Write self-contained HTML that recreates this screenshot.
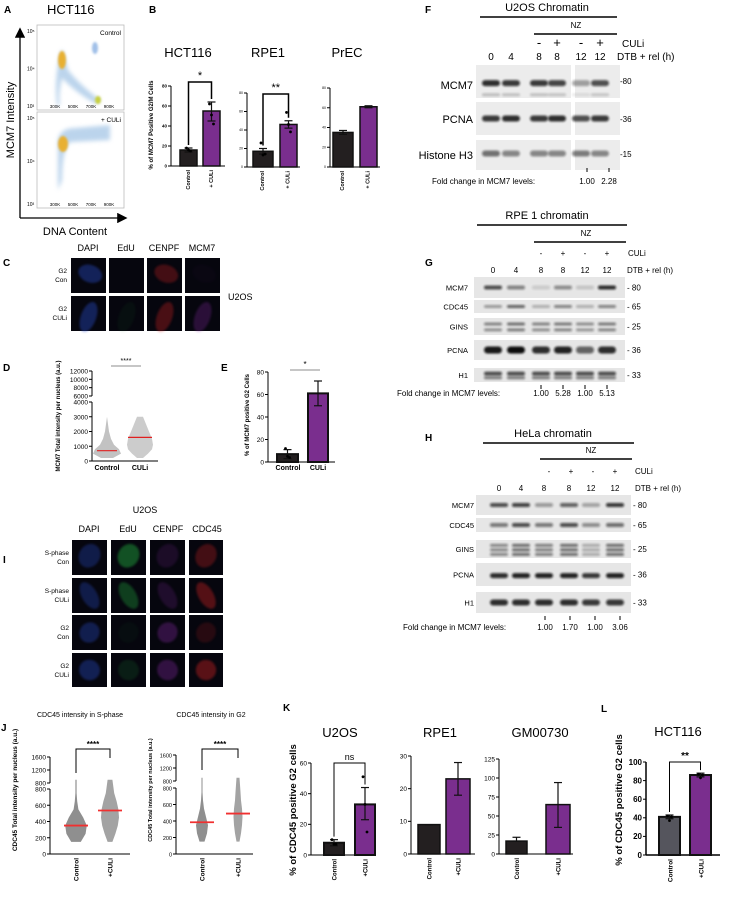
<!DOCTYPE html>
<html><head><meta charset="utf-8">
<style>
html,body{margin:0;padding:0;background:#fff;}
svg{display:block;font-family:"Liberation Sans",sans-serif;}
</style></head>
<body>
<svg id="fig" width="746" height="898" viewBox="0 0 746 898" xmlns="http://www.w3.org/2000/svg">
<defs>
<filter id="blur2" x="-50%" y="-50%" width="200%" height="200%"><feGaussianBlur stdDeviation="2"/></filter>
<filter id="blur1" x="-50%" y="-50%" width="200%" height="200%"><feGaussianBlur stdDeviation="1"/></filter>
<marker id="arr" markerWidth="8" markerHeight="8" refX="6" refY="4" orient="auto"><path d="M0,0 L8,4 L0,8 z" fill="#000"/></marker>
</defs>
<g id="root"></g>
</svg>
<script>
// ===== DATA =====
const bHctVals=[16,55]; const bHctLo=[14,45]; const bHctHi=[18,64]; const bHctDotsC=[18,16,15]; const bHctDotsU=[62,51,42];
const bRpeVals=[17,46]; const bRpeLo=[14,42]; const bRpeHi=[20,50]; const bRpeDotsC=[26,13,14]; const bRpeDotsU=[59,46,38];
const bPrecVals=[35,61]; const bPrecLo=[33,60]; const bPrecHi=[37,62];
const eVals=[7,61]; const eLo=[3,50]; const eHi=[11,72]; const eDotsC=[12,5,4];
const kU2Vals=[8,33]; const kU2Lo=[6,23]; const kU2Hi=[10,44]; const kU2DotsC=[10,7,7]; const kU2DotsU=[51,33,15];
const kRpeVals=[9,23]; const kRpeLo=[9,18]; const kRpeHi=[9,28];
const kGmVals=[17,65]; const kGmLo=[17,35]; const kGmHi=[22,94];
const lVals=[41,86]; const lLo=[39,84]; const lHi=[43,88]; const lDotsC=[42,37,41]; const lDotsU=[87,83,86];
const ticks80=[0,20,40,60,80]; const ticks60=[0,20,40,60]; const ticks30=[0,10,20,30];
const ticks125=[0,25,50,75,100,125]; const ticks100=[0,20,40,60,80,100];
const dTicksLow=[0,1000,2000,3000,4000]; const dTicksHigh=[6000,8000,10000,12000];
const dMedians=[700,1600];
const dCloudVals=[200,500,800,1100,1500,2000,2500,3000];
const dCloudC=[6,14,12,7,4,2,1,0];
const dCloudU=[3,8,12,13,12,9,6,3];
const jTicksLow=[0,200,400,600,800]; const jTicksHigh=[800,1200,1600];
const jMed1=[350,535]; const jMed2=[385,490];
const jCloudVals=[150,250,350,450,550,650,750,900];
const j1C=[8,16,18,12,4,2,1,1]; const j1U=[4,9,13,15,14,11,7,4];
const j2C=[5,10,12,8,4,2,1,1]; const j2U=[3,6,8,9,8,6,5,3];
const laneF=[491,511,539,557,581,600];
const fMcm=[0.85,0.8,0.8,0.75,0.35,0.7]; const fPcna=[0.8,0.85,0.8,0.85,0.7,0.8]; const fH3=[0.55,0.45,0.45,0.45,0.5,0.45];
const laneG=[493,516,541,563,585,607];
const gMcm=[0.7,0.45,0.12,0.4,0.15,0.85]; const gCdc=[0.35,0.6,0.25,0.45,0.25,0.45]; const gGins=[0.5,0.6,0.5,0.55,0.45,0.55]; const gPcna=[0.95,1,0.85,0.9,0.6,0.85]; const gH1=[0.7,0.7,0.7,0.7,0.7,0.7];
const laneH=[499,521,544,569,591,615];
const hMcm=[0.7,0.75,0.35,0.6,0.3,0.8]; const hCdc=[0.5,0.7,0.5,0.7,0.4,0.55]; const hGins=[0.55,0.7,0.6,0.7,0.35,0.7]; const hPcna=[0.85,0.9,0.9,0.9,0.8,0.9]; const hH1=[0.85,0.85,0.85,0.85,0.8,0.8];
const foldF=["1.00","2.28"]; const foldG=["1.00","5.28","1.00","5.13"]; const foldH=["1.00","1.70","1.00","3.06"];

// ===== HELPERS =====
const NS="http://www.w3.org/2000/svg";
const root=document.getElementById('root');
function add(tag,attrs,name,parent){
  const e=document.createElementNS(NS,tag);
  for(const k in attrs) e.setAttribute(k,attrs[k]);
  
  
  (parent||root).appendChild(e);return e;
}
function txt(x,y,s,size,name,opt){
  opt=opt||{};
  const a={x:x,y:y,'font-size':size,fill:opt.fill||'#000','text-anchor':opt.anchor||'start'};
  if(opt.weight)a['font-weight']=opt.weight;
  if(opt.rot!==undefined)a.transform='rotate('+opt.rot+' '+x+' '+y+')';
  const t=add('text',a,name,opt.parent);t.textContent=s;return t;
}
function line(x1,y1,x2,y2,w,name,col){return add('line',{x1:x1,y1:y1,x2:x2,y2:y2,stroke:col||'#000','stroke-width':w},name);}

function barChart(o){
  const g=add('g',{},o.name);
  const sy=v=>o.y0-(v/o.max)*(o.y0-o.yTop);
  add('line',{x1:o.ax,y1:o.yTop,x2:o.ax,y2:o.y0,stroke:'#000','stroke-width':o.aw||1},o.name+'-y-axis',g);
  add('line',{x1:o.ax,y1:o.y0,x2:o.xEnd,y2:o.y0,stroke:'#000','stroke-width':o.aw||1},o.name+'-x-axis',g);
  o.ticks.forEach(t=>{
    add('line',{x1:o.ax-3,y1:sy(t),x2:o.ax,y2:sy(t),stroke:'#000','stroke-width':1},o.name+'-tick',g);
    txt(o.ax-4,sy(t)+o.fs*0.35,String(t),o.fs,o.name+'-tick-label',{anchor:'end',parent:g,weight:o.bold?'bold':null,fill:o.tickCol||'#000'});
  });
  o.vals.forEach((v,i)=>{
    const x0=o.bx[i][0],x1=o.bx[i][1];
    add('rect',{x:x0,y:sy(v),width:x1-x0,height:o.y0-sy(v),fill:o.cols[i],stroke:'#111','stroke-width':o.bw||1.5},o.name+'-bar-'+i,g);
    const cx=(x0+x1)/2;
    if(o.lo){
      add('line',{x1:cx,y1:sy(o.lo[i]),x2:cx,y2:sy(o.hi[i]),stroke:'#111','stroke-width':1.2},o.name+'-error-bar',g);
      add('line',{x1:cx-4,y1:sy(o.hi[i]),x2:cx+4,y2:sy(o.hi[i]),stroke:'#111','stroke-width':1.2},o.name+'-error-cap',g);
      add('line',{x1:cx-4,y1:sy(o.lo[i]),x2:cx+4,y2:sy(o.lo[i]),stroke:'#111','stroke-width':1.2},o.name+'-error-cap',g);
    }
    const d=o.dots&&o.dots[i];
    if(d)d.forEach((dv,j)=>add('circle',{cx:cx+(j-1)*2,cy:sy(dv),r:1.4,fill:'#000'},o.name+'-dot',g));
    if(o.cats[i]) txt(cx+o.fs*0.35,o.y0+4,o.cats[i],o.xfs||o.fs,o.name+'-x-label',{anchor:'end',rot:-90,parent:g,weight:'bold'});
  });
  if(o.sig){
    const c0=(o.bx[0][0]+o.bx[0][1])/2,c1=(o.bx[1][0]+o.bx[1][1])/2;
    const yb=o.sigY;
    add('polyline',{points:c0+','+(sy(o.hi[0])-3)+' '+c0+','+yb+' '+c1+','+yb+' '+c1+','+(sy(o.hi[1])-3),fill:'none',stroke:'#000','stroke-width':o.sigW||1},o.name+'-significance-bracket',g);
    txt((c0+c1)/2,yb-3,o.sig,o.sigFs||9,o.name+'-significance-label',{anchor:'middle',parent:g,weight:o.sigBold?'bold':null});
  }
  return sy;
}

// ===== PANEL LABELS =====
[['A',4,13],['B',149,13],['C',3,266],['D',3,371],['E',221,371],['F',425,13],['G',425,266],['H',425,441],['I',3,563],['J',1,731],['K',283,711],['L',601,712]].forEach(p=>txt(p[1],p[2],p[0],10,'panel-label-'+p[0].toLowerCase(),{weight:'bold'}));

// ===== A: flow =====
txt(47,14,'HCT116',13,'panel-a-title');
line(20,218,20,30,1.3,'a-y-axis-arrow').setAttribute('marker-end','url(#arr)');
line(20,218,125,218,1.3,'a-x-axis-arrow').setAttribute('marker-end','url(#arr)');
txt(14,120,'MCM7 Intensity',11,'a-y-axis-title',{anchor:'middle',rot:-90});
txt(75,235,'DNA Content',11,'a-x-axis-title',{anchor:'middle'});
[[25,110,'Control'],[112,208,'+ CULi']].forEach((b,k)=>{
  add('rect',{x:37,y:b[0],width:87,height:b[1]-b[0],fill:'#fff',stroke:'#bbb','stroke-width':0.8},'flow-plot-'+k);
  txt(121,b[0]+10,b[2],6.5,'flow-plot-label',{anchor:'end'});
  ['10⁵','10⁴','10³'].forEach((s,i)=>txt(27,b[0]+8+i*(b[1]-b[0]-10)/2,s,5,'flow-y-tick',{}));
  ['300K','500K','700K','900K'].forEach((s,i)=>txt(55+i*18,b[1]-2,s,4.5,'flow-x-tick',{anchor:'middle'}));
});
add('path',{d:'M60,55 Q62,45 64,55 L68,70 Q80,85 100,100 L96,104 Q75,92 62,78 Q58,95 60,105 L57,105 Q54,80 60,55z',fill:'#8fb8e0',opacity:0.6,filter:'url(#blur2)'},'flow-control-cloud');
add('ellipse',{cx:62,cy:60,rx:4,ry:9,fill:'#e8b030',filter:'url(#blur1)'},'flow-control-g1');
add('ellipse',{cx:98,cy:100,rx:3,ry:4,fill:'#c8d040',filter:'url(#blur1)'},'flow-control-g2');
add('ellipse',{cx:95,cy:48,rx:3,ry:6,fill:'#a0c0e8',filter:'url(#blur1)'},'flow-control-m');
add('path',{d:'M58,140 Q60,128 75,128 L110,125 L110,140 L70,142 Q62,150 62,180 L58,190z',fill:'#8fb8e0',opacity:0.6,filter:'url(#blur2)'},'flow-culi-cloud');
add('ellipse',{cx:63,cy:144,rx:5,ry:8,fill:'#e8b030',filter:'url(#blur1)'},'flow-culi-g1');

// ===== B =====
txt(188,57,'HCT116',13,'b-hct116-title',{anchor:'middle'});
txt(268,57,'RPE1',13,'b-rpe1-title',{anchor:'middle'});
txt(347,57,'PrEC',13,'b-prec-title',{anchor:'middle'});
txt(153,125,'% of MCM7 Positive G2/M Cells',6,'b-y-axis-title',{anchor:'middle',rot:-90,weight:'bold'});
const purple='#7a2e8e', dark='#231f20';
barChart({name:'b-hct116',ax:171,y0:166,yTop:86,max:80,ticks:ticks80,xEnd:225,fs:4.5,xfs:5.5,bold:true,vals:bHctVals,lo:bHctLo,hi:bHctHi,dots:[bHctDotsC,bHctDotsU],bx:[[180,197],[203,220]],cols:[dark,purple],cats:['Control','+ CULi'],sig:'*',sigY:82,sigW:1.5,sigFs:11});
barChart({name:'b-rpe1',ax:247,y0:167,yTop:93,max:80,ticks:ticks80,xEnd:300,fs:3.5,xfs:5.5,vals:bRpeVals,lo:bRpeLo,hi:bRpeHi,dots:[bRpeDotsC,bRpeDotsU],bx:[[253,273],[280,297]],cols:[dark,purple],cats:['Control','+ CULi'],sig:'**',sigY:94,sigW:1.5,sigFs:11});
barChart({name:'b-prec',ax:330,y0:167,yTop:88,max:80,ticks:ticks80,xEnd:380,fs:3.5,xfs:5.5,vals:bPrecVals,lo:bPrecLo,hi:bPrecHi,bx:[[333,353],[360,377]],cols:[dark,purple],cats:['Control','+ CULi']});

// ===== microscopy helper =====
function micro(x,y,w,h,col,op,name,shape){
  const g=add('g',{},name);
  add('rect',{x:x,y:y,width:w,height:h,fill:'#06060e'},name+'-bg',g);
  if(op>0) add('ellipse',{cx:x+w*shape[0],cy:y+h*shape[1],rx:w*shape[2],ry:h*shape[3],fill:col,opacity:op*0.55,filter:'url(#blur1)',transform:'rotate('+shape[4]+' '+(x+w*shape[0])+' '+(y+h*shape[1])+')'},name+'-nucleus',g);
}
// C
['DAPI','EdU','CENPF','MCM7'].forEach((s,i)=>txt([88,126,164,202][i],251,s,9,'c-column-title',{anchor:'middle'}));
const cCols=[[71,106],[109,144],[147,182],[185,220]], cRows=[[258,293],[296,331]];
const cColor=['#2a4fd0','#1a7a2a','#d02020','#8a2aa8'];
const cOp=[[0.7,0,0.55,0.05],[0.7,0.15,0.6,0.5]];
cRows.forEach((r,ri)=>cCols.forEach((c,ci)=>micro(c[0],r[0],c[1]-c[0],r[1]-r[0],cColor[ci],cOp[ri][ci],'c-image',ri==0?[0.55,0.45,0.35,0.25,20]:[0.5,0.6,0.22,0.45,20])));
txt(67,273,'G2',6.5,'c-row-label',{anchor:'end'});txt(67,282,'Con',6.5,'c-row-label',{anchor:'end'});
txt(67,311,'G2',6.5,'c-row-label',{anchor:'end'});txt(67,320,'CULi',6.5,'c-row-label',{anchor:'end'});
txt(228,300,'U2OS',9,'c-cell-line-label');

// ===== D =====
function dY(v){return v<=4000?461-v*59/4000:396-(v-6000)*25/6000;}
const dg=add('g',{},'d-dot-plot');
add('line',{x1:92,y1:371,x2:92,y2:396,stroke:'#000','stroke-width':1},'d-y-axis-upper',dg);
add('line',{x1:92,y1:402,x2:92,y2:461,stroke:'#000','stroke-width':1},'d-y-axis-lower',dg);
add('line',{x1:92,y1:461,x2:158,y2:461,stroke:'#000','stroke-width':1},'d-x-axis',dg);
dTicksLow.concat(dTicksHigh).forEach(t=>{line(89,dY(t),92,dY(t),1,'d-tick');txt(88,dY(t)+2.5,String(t),6.5,'d-tick-label',{anchor:'end'});});
function cloud(cx,vals,widths,yf,name,col,scale){
  let l='',r='';
  vals.forEach((v,i)=>{l+=(l?' L':'M')+(cx-widths[i]*scale)+','+yf(v);});
  for(let i=vals.length-1;i>=0;i--){r+=' L'+(cx+widths[i]*scale)+','+yf(vals[i]);}
  add('path',{d:l+r+' Z',fill:col,opacity:0.6},name);
}
cloud(107,dCloudVals,dCloudC,dY,'d-control-points','#999',1);
cloud(140,dCloudVals,dCloudU,dY,'d-culi-points','#aaa',1);
line(97,dY(dMedians[0]),117,dY(dMedians[0]),1.2,'d-control-mean','#e02020');
line(128,dY(dMedians[1]),152,dY(dMedians[1]),1.2,'d-culi-mean','#e02020');
txt(107,470,'Control',7,'d-x-label',{anchor:'middle',weight:'bold'});
txt(140,470,'CULi',7,'d-x-label',{anchor:'middle',weight:'bold'});
line(111,366,141,366,0.8,'d-significance-line','#666');
txt(126,363,'****',7,'d-significance-label',{anchor:'middle'});
txt(60,416,'MCM7 Total intensity per nucleus (a.u.)',6,'d-y-axis-title',{anchor:'middle',rot:-90,weight:'bold'});

// ===== E =====
barChart({name:'e-bars',ax:268,y0:462,yTop:372,max:80,ticks:ticks80,xEnd:335,fs:6.5,vals:eVals,lo:eLo,hi:eHi,dots:[eDotsC,null],bx:[[277,298],[308,328]],cols:[dark,purple],cats:['',''],bw:2});
line(290,370,320,370,0.8,'e-significance-line','#666');
txt(305,367,'*',8,'e-significance-label',{anchor:'middle'});
txt(288,470,'Control',7,'e-x-label',{anchor:'middle',weight:'bold'});
txt(318,470,'CULi',7,'e-x-label',{anchor:'middle',weight:'bold'});
txt(249,415,'% of MCM7 positive G2 Cells',6,'e-y-axis-title',{anchor:'middle',rot:-90,weight:'bold'});

// ===== I =====
txt(145,513,'U2OS',9,'i-cell-line-label',{anchor:'middle'});
['DAPI','EdU','CENPF','CDC45'].forEach((s,i)=>txt([89,128,168,207][i],532,s,9,'i-column-title',{anchor:'middle'}));
const iCols=[[72,107],[111,146],[150,185],[189,223]], iRows=[[540,575],[578,613],[615,650],[653,687]];
const iCol=['#2a4fd0','#20b040','#8a2aa8','#d02020'];
const iOp=[[0.55,0.8,0.3,0.55],[0.55,0.6,0.35,0.7],[0.6,0.08,0.6,0.3],[0.65,0.25,0.6,0.75]];
const iShape=[[0.5,0.45,0.3,0.35,30],[0.5,0.5,0.22,0.42,-30],[0.5,0.5,0.28,0.3,40],[0.5,0.5,0.3,0.3,30]];
iRows.forEach((r,ri)=>iCols.forEach((c,ci)=>micro(c[0],r[0],c[1]-c[0],r[1]-r[0],iCol[ci],iOp[ri][ci],'i-image',iShape[ri])));
[['S-phase','Con'],['S-phase','CULi'],['G2','Con'],['G2','CULi']].forEach((l,i)=>{txt(69,iRows[i][0]+15,l[0],6.5,'i-row-label',{anchor:'end'});txt(69,iRows[i][0]+24,l[1],6.5,'i-row-label',{anchor:'end'});});

// ===== J =====
txt(80,717,'CDC45 intensity in S-phase',7,'j-title-sphase',{anchor:'middle'});
txt(211,717,'CDC45 intensity in G2',7,'j-title-g2',{anchor:'middle'});
function jPlot(name,ax,xEnd,cC,cU,top,med,wC,wU,scale,fs){
  const yf=v=>v<=800?854-v*(854-top[0])/800:top[1]-(v-800)*(top[1]-top[2])/800;
  add('line',{x1:ax,y1:top[2],x2:ax,y2:top[1],stroke:'#000','stroke-width':1},name+'-y-axis-upper');
  add('line',{x1:ax,y1:top[0],x2:ax,y2:854,stroke:'#000','stroke-width':1},name+'-y-axis-lower');
  add('line',{x1:ax,y1:854,x2:xEnd,y2:854,stroke:'#000','stroke-width':1},name+'-x-axis');
  jTicksLow.forEach(t=>{line(ax-3,yf(t),ax,yf(t),1,name+'-tick');txt(ax-4,yf(t)+2.5,String(t),fs,name+'-tick-label',{anchor:'end'});});
  jTicksHigh.forEach(t=>{const y=top[1]-(t-800)*(top[1]-top[2])/800;line(ax-3,y,ax,y,1,name+'-tick');txt(ax-4,y+2.5,String(t),fs,name+'-tick-label',{anchor:'end'});});
  cloud(cC,jCloudVals,wC,yf,name+'-control-points','#444',scale);
  cloud(cU,jCloudVals,wU,yf,name+'-culi-points','#666',scale);
  line(cC-12,yf(med[0]),cC+12,yf(med[0]),1.8,name+'-control-median','#f03030');
  line(cU-12,yf(med[1]),cU+12,yf(med[1]),1.8,name+'-culi-median','#f03030');
  txt(cC+2.5,858,'Control',6.5,name+'-x-label',{anchor:'end',rot:-90,weight:'bold'});
  txt(cU+2.5,858,'+CULi',6.5,name+'-x-label',{anchor:'end',rot:-90,weight:'bold'});
  return yf;
}
jPlot('j-sphase',50,130,76,110,[789,783,757],jMed1,j1C,j1U,0.6,6.5);
add('polyline',{points:'76,773 76,749 110,749 110,758',fill:'none',stroke:'#000','stroke-width':1},'j-sphase-significance-bracket');
txt(93,747,'****',8,'j-sphase-significance-label',{anchor:'middle',weight:'bold'});
txt(17,790,'CDC45 Total intensity per nucleus (a.u.)',6.5,'j-sphase-y-axis-title',{anchor:'middle',rot:-90,weight:'bold'});
jPlot('j-g2',176,253,202,238,[788,781,755],jMed2,j2C,j2U,0.5,5.5);
add('polyline',{points:'202,770 202,749 238,749 238,758',fill:'none',stroke:'#000','stroke-width':1},'j-g2-significance-bracket');
txt(220,747,'****',8,'j-g2-significance-label',{anchor:'middle',weight:'bold'});
txt(152,790,'CDC45 Total intensity per nucleus (a.u.)',5.5,'j-g2-y-axis-title',{anchor:'middle',rot:-90,weight:'bold'});

// ===== K =====
txt(340,737,'U2OS',13,'k-u2os-title',{anchor:'middle'});
txt(440,737,'RPE1',13,'k-rpe1-title',{anchor:'middle'});
txt(540,737,'GM00730',13,'k-gm00730-title',{anchor:'middle'});
txt(296,810,'% of CDC45 positive G2 cells',9.5,'k-y-axis-title',{anchor:'middle',rot:-90,weight:'bold'});
barChart({name:'k-u2os',ax:311,y0:855,yTop:763,max:60,ticks:ticks60,xEnd:375,fs:6.5,xfs:6,vals:kU2Vals,lo:kU2Lo,hi:kU2Hi,dots:[kU2DotsC,kU2DotsU],bx:[[324,344],[355,375]],cols:[dark,purple],cats:['Control','+CULi'],sig:'ns',sigY:763,bw:2});
barChart({name:'k-rpe1',ax:411,y0:854,yTop:756,max:30,ticks:ticks30,xEnd:475,fs:6.5,xfs:6,vals:kRpeVals,lo:kRpeLo,hi:kRpeHi,bx:[[418,440],[446,470]],cols:[dark,purple],cats:['Control','+CULi'],bw:1.5});
barChart({name:'k-gm00730',ax:499,y0:854,yTop:759,max:125,ticks:ticks125,xEnd:573,fs:6.5,xfs:6,vals:kGmVals,lo:kGmLo,hi:kGmHi,bx:[[506,527],[546,570]],cols:[dark,purple],cats:['Control','+CULi'],bw:1.5});

// ===== L =====
txt(678,736,'HCT116',13,'l-hct116-title',{anchor:'middle'});
txt(622,800,'% of CDC45 positive G2 cells',9.5,'l-y-axis-title',{anchor:'middle',rot:-90,weight:'bold'});
barChart({name:'l-hct116',ax:646,y0:855,yTop:762,max:100,ticks:ticks100,xEnd:720,fs:8,xfs:6.5,bold:true,aw:1.5,vals:lVals,lo:lLo,hi:lHi,dots:[lDotsC,lDotsU],bx:[[659,680],[690,711]],cols:['#55555d',purple],cats:['Control','+CULi'],sig:'**',sigY:762,sigFs:10,sigBold:true,bw:2});

// ===== Blots =====
function blotRow(name,x0,x1,y0,y1,lanes,ints,bandRows,split){
  const g=add('g',{},name);
  if(split){
    add('rect',{x:x0,y:y0,width:split[0]-x0,height:y1-y0,fill:'#ececec'},name+'-membrane',g);
    add('rect',{x:split[1],y:y0,width:x1-split[1],height:y1-y0,fill:'#ececec'},name+'-membrane',g);
  } else add('rect',{x:x0,y:y0,width:x1-x0,height:y1-y0,fill:'#e6e6e6'},name+'-membrane',g);
  const h=y1-y0;
  bandRows.forEach(br=>{
    lanes.forEach((lx,i)=>{
      const v=ints[i]*br[1];
      add('rect',{x:lx-9,y:y0+h*br[0]-br[2]/2,width:18,height:br[2],rx:br[2]/2,fill:'#111',opacity:v,filter:'url(#blur1)'},name+'-band',g);
    });
  });
}
function header(title,cx,ty,lx0,lx1,nzx,nzy,nzx0,nzx1,pmY,pmX,culiX,laneY,lanes,dtbX,pmSize,name){
  txt(cx,ty,title,11,name+'-title',{anchor:'middle'});
  line(lx0,ty+6,lx1,ty+6,1.5,name+'-title-line');
  txt(nzx,nzy,'NZ',8,name+'-nz-label',{anchor:'middle'});
  line(nzx0,nzy+6,nzx1,nzy+6,1.5,name+'-nz-line');
  ['-','+','-','+'].forEach((s,i)=>txt(pmX[i],pmY,s,pmSize,name+'-culi-sign',{anchor:'middle'}));
  txt(culiX,pmY,'CULi',pmSize>10?10:8,name+'-culi-label');
  ['0','4','8','8','12','12'].forEach((s,i)=>txt(lanes[i],laneY,s,pmSize>10?10:8,name+'-lane-label',{anchor:'middle'}));
  txt(dtbX,laneY,'DTB + rel (h)',pmSize>10?10:8,name+'-dtb-label');
}
// F
header('U2OS Chromatin',547,11,480,617,576,28,534,617,47,[539,557,581,600],622,60,laneF,617,13,'f');
blotRow('f-mcm7',476,620,65,98,laneF,fMcm,[[0.55,1,6],[0.9,0.25,3]],[571,575]);
blotRow('f-pcna',476,620,102,135,laneF,fPcna,[[0.5,1,6]],[571,575]);
blotRow('f-h3',476,620,140,170,laneF,fH3,[[0.45,1,6]],[571,575]);
txt(473,89,'MCM7',11,'f-mcm7-label',{anchor:'end'});
txt(473,123,'PCNA',11,'f-pcna-label',{anchor:'end'});
txt(473,159,'Histone H3',11,'f-h3-label',{anchor:'end'});
[['-80',84],['-36',122],['-15',157]].forEach(m=>txt(620,m[1],m[0],8,'f-mw-marker'));
line(587,168,587,172,1,'f-fold-tick');line(609,168,609,172,1,'f-fold-tick');
txt(432,184,'Fold change in MCM7 levels:',8,'f-fold-label');
foldF.forEach((s,i)=>txt([587,609][i],184,s,8,'f-fold-value',{anchor:'middle'}));
// G
header('RPE 1 chromatin',547,219,477,627,586,236,534,626,256,[541,563,585,607],628,273,laneG,627,8,'g');
const gRows=[['MCM7',277,298,gMcm,[[0.5,1,4]]],['CDC45',300,313,gCdc,[[0.5,1,3]]],['GINS',318,335,gGins,[[0.35,0.9,3],[0.7,0.8,3]]],['PCNA',340,360,gPcna,[[0.5,1,7]]],['H1',368,382,gH1,[[0.4,1,4],[0.7,0.7,3]]]];
const gMw=['- 80','- 65','- 25','- 36','- 33'];
gRows.forEach((r,i)=>{blotRow('g-'+r[0].toLowerCase(),474,625,r[1],r[2],laneG,r[3],r[4]);txt(468,(r[1]+r[2])/2+3,r[0],7.5,'g-row-label',{anchor:'end'});txt(627,(r[1]+r[2])/2+3,gMw[i],8,'g-mw-marker');});
laneG.slice(2).forEach(x=>line(x,385,x,389,1,'g-fold-tick'));
txt(397,396,'Fold change in MCM7 levels:',8,'g-fold-label');
foldG.forEach((s,i)=>txt(laneG[i+2],396,s,8,'g-fold-value',{anchor:'middle'}));
// H
header('HeLa chromatin',553,437,483,634,591,453,540,632,474,[549,571,593,615],635,491,laneH,635,8,'h');
const hRows=[['MCM7',495,515,hMcm,[[0.5,1,4]]],['CDC45',518,532,hCdc,[[0.5,1,4]]],['GINS',540,558,hGins,[[0.3,0.8,3],[0.55,0.8,3],[0.8,0.8,3]]],['PCNA',563,586,hPcna,[[0.55,1,5]]],['H1',592,613,hH1,[[0.5,1,6]]]];
const hMw=['- 80','- 65','- 25','- 36','- 33'];
hRows.forEach((r,i)=>{blotRow('h-'+r[0].toLowerCase(),476,631,r[1],r[2],laneH,r[3],r[4]);txt(474,(r[1]+r[2])/2+3,r[0],7.5,'h-row-label',{anchor:'end'});txt(633,(r[1]+r[2])/2+3,hMw[i],8,'h-mw-marker');});
[545,570,595,620].forEach(x=>line(x,616,x,620,1,'h-fold-tick'));
txt(403,630,'Fold change in MCM7 levels:',8,'h-fold-label');
foldH.forEach((s,i)=>txt([545,570,595,620][i],630,s,8,'h-fold-value',{anchor:'middle'}));
</script>
</body></html>
